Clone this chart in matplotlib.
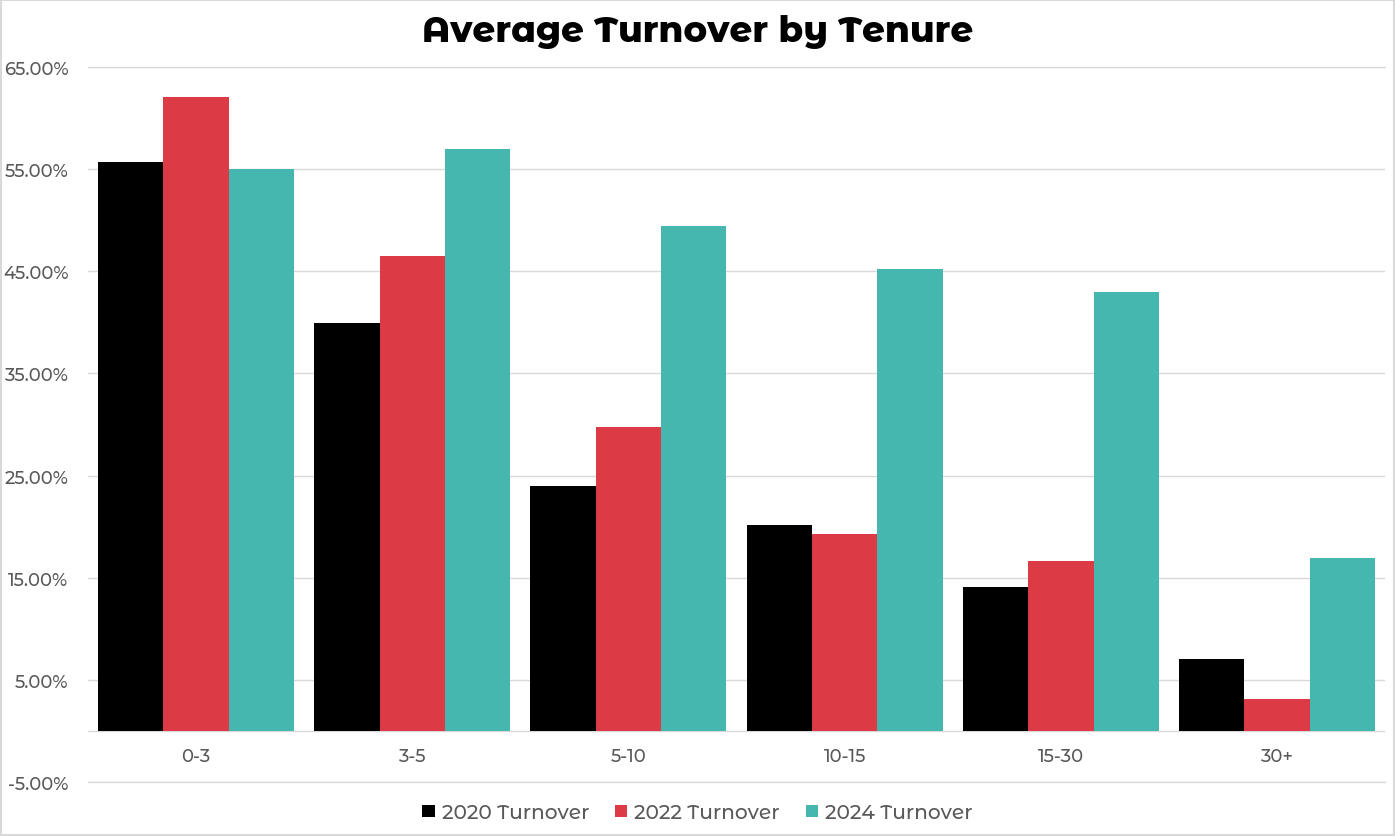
import numpy as np
import matplotlib.pyplot as plt
from matplotlib.patches import Rectangle
from matplotlib.ticker import FuncFormatter

categories = ["0-3", "3-5", "5-10", "10-15", "15-30", "30+"]
turnover_2020 = [55.7, 39.9, 24.0, 20.2, 14.1, 7.0]
turnover_2022 = [62.1, 46.5, 29.8, 19.3, 16.6, 3.1]
turnover_2024 = [55.0, 57.0, 49.4, 45.2, 43.0, 16.9]
series_names = ["2020 Turnover", "2022 Turnover", "2024 Turnover"]
colors = ["#000000", "#DC3A45", "#46B7AF"]

plt.rcParams['font.family'] = ['Montserrat Alternates', 'Lato', 'DejaVu Sans']

fig = plt.figure(figsize=(13.95, 8.37), dpi=100)
ax = fig.add_axes([0.063, 0.0645, 0.93, 0.8543])

x = np.arange(len(categories))
w = 0.302
for i, (vals, name, c) in enumerate(zip([turnover_2020, turnover_2022, turnover_2024], series_names, colors)):
    ax.bar(x + (i - 1) * w, vals, width=w, color=c, label=name, zorder=3)

ax.set_xlim(-0.5, len(categories) - 0.5)
ax.set_ylim(-5, 65)
ax.set_yticks(np.arange(-5, 66, 10))
ax.yaxis.set_major_formatter(FuncFormatter(lambda v, p: f"{v:.2f}%"))
ax.grid(axis='y', color='#D9D9D9', linewidth=1, zorder=0)
for yv in (-5, 65):
    ax.axhline(yv, color='#D9D9D9', linewidth=1, zorder=0, clip_on=False)
ax.axhline(0, color='#D9D9D9', linewidth=1, zorder=2)
for s in ax.spines.values():
    s.set_visible(False)
ax.tick_params(axis='y', length=0, labelsize=13, labelcolor='#595959', pad=14)
for lbl in ax.get_yticklabels():
    lbl.set_fontweight('medium')
ax.set_xticks([])

# category labels just under the zero line
for xi, cat in zip(x, categories):
    ax.text(xi, -2.45, cat, ha='center', va='center', fontsize=13, color='#595959', fontweight='medium')

fig.suptitle("Average Turnover by Tenure", x=0.5, y=0.983, fontsize=25.7, fontweight='heavy', color='black')

leg = fig.legend(loc='center', bbox_to_anchor=(0.5, 0.028), ncol=3, frameon=False,
                 prop={'size': 14.5, 'weight': 'medium'}, labelcolor='#595959',
                 handlelength=0.6, handleheight=0.6, handletextpad=0.35, columnspacing=1.3)

fig.patches.append(Rectangle((0.001, 0.001), 0.998, 0.998, transform=fig.transFigure,
                             fill=False, edgecolor='#D9D9D9', linewidth=1.5))

fig.savefig("out.png", dpi=100)
